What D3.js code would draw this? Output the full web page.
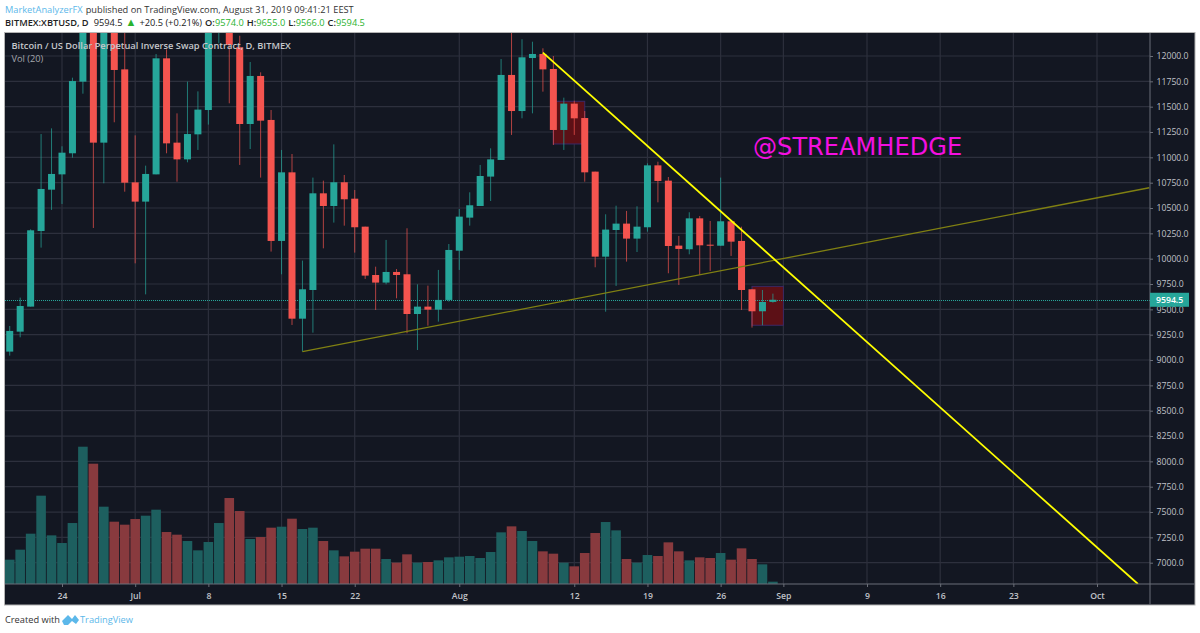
<!DOCTYPE html>
<html>
<head>
<meta charset="utf-8">
<style>
  html, body { margin: 0; padding: 0; background: #fff; }
  svg { display: block; }
  text { font-family: "Open Sans", "Noto Sans", sans-serif; }
</style>
<script src="https://cdnjs.cloudflare.com/ajax/libs/d3/7.8.5/d3.min.js"></script>
</head>
<body>
<div id="chart"></div>
<script>
// daily candles, Jun 19 to Aug 31 2019 (bars above the pane top are guessed, they get clipped)
var firstDay = "2019-06-19", dayAfterLast = "2019-09-01";
var opens = [9083,9280,9527,10273,10681,10832,11040,11747,13000,11145,13000,11868,10753,10563,10832,11977,11145,10980,11227,11467,12500,13000,12086,11329,11803,11369,10175,10852,9408,9691,10645,10520,10754,10592,10316,9839,9764,9869,9846,9454,9527,9497,9593,10079,10405,10520,10810,10974,11813,11457,11980,12020,11872,11270,11530,11388,10859,10020,10283,10346,10198,10310,10921,10770,10129,10093,10398,10138,10128,10369,10175,9698,9481,9574];
var highs = [9336,9616,10290,11230,11286,11109,11786,13500,13800,12500,13200,12400,11217,10918,12020,12066,11434,11747,11651,12600,13200,13300,12200,11941,11839,11467,11073,11033,9981,10800,10770,11128,10826,10678,10316,9921,10185,9898,10300,9747,9734,9889,10145,10490,10655,10925,11089,11970,12300,12165,12141,12076,12000,11589,11559,11457,10859,10438,10523,10471,10517,10941,10957,10806,10224,10458,10421,10372,10800,10382,10316,9698,9691,9655];
var lows = [9043,9224,9527,10109,10481,10540,10997,11628,10303,10744,11346,10661,9954,9648,10832,11040,10760,10951,11073,11323,12125,11533,10925,11082,10800,10070,9846,9346,9083,9270,10102,10356,10326,10060,9800,9494,9747,9609,9264,9099,9339,9379,9576,9889,10326,10520,10569,10974,11221,11385,11434,11648,11122,11073,11221,10760,9915,9477,9731,9971,10066,10267,10556,9856,9741,10043,9839,9879,10128,10027,9494,9320,9343,9566];
var closes = [9287,9533,10280,10688,10836,11046,11753,13000,11145,12400,11862,10750,10563,10836,11977,11138,10980,11230,11471,12300,12800,12109,11329,11803,11362,10175,10852,9408,9698,10645,10520,10754,10586,10310,9833,9764,9869,9839,9454,9527,9497,9593,10086,10415,10527,10816,10980,11813,11457,11987,12020,11868,11270,11530,11385,10852,10020,10287,10346,10198,10316,10921,10767,10125,10096,10398,10132,10128,10369,10168,9691,9481,9573,9594.5];
// volume read as bar height, no scale is shown on the chart
var volumes = [73,103,151,265,146,123,183,412,361,232,187,178,195,205,223,156,148,129,101,126,183,258,219,135,141,169,172,196,165,169,129,101,83,97,106,106,75,64,89,64,66,71,80,82,84,78,96,155,173,159,129,98,91,64,53,93,153,186,161,75,64,87,84,125,98,71,80,78,93,73,107,75,59,7];

var priceTicks = [7000,7250,7500,7750,8000,8250,8500,8750,9000,9250,9500,9750,10000,10250,10500,10750,11000,11250,11500,11750,12000];
var timeTickDates = ["2019-06-24","2019-07-01","2019-07-08","2019-07-15","2019-07-22","2019-08-01","2019-08-12","2019-08-19","2019-08-26","2019-09-01","2019-09-09","2019-09-16","2019-09-23","2019-10-01"];
var timeTickLabels = ["24","Jul","8","15","22","Aug","12","19","26","Sep","9","16","23","Oct"];

// drawings on the chart: [date, price]
var resistanceLine = [["2019-08-09T00:00Z",12033],["2019-10-04T22:00Z",6790]];
var supportLine = [["2019-07-17T00:00Z",9083],["2019-10-06T00:00Z",10700]];
var boxes = [
  {from:"2019-08-10T00:00Z", to:"2019-08-13T00:00Z", top:11553, bottom:11132},
  {from:"2019-08-29T00:00Z", to:"2019-09-01T00:00Z", top:9727, bottom:9343}
];
var lastPrice = 9594.5;

var width = 1200, height = 633;
var pane = {left: 5, right: 1150, top: 33, bottom: 584, outerRight: 1195, outerBottom: 605};
var upColor = "#26a69a", downColor = "#f4544f", gridColor = "#2d303d", axisColor = "#6b6e78", labelColor = "#c0c2c8";
var smallFont = 9.25, axisFont = 8.7;

var days = d3.utcDay.range(new Date(firstDay), new Date(dayAfterLast));
var bars = days.map(function(d, i) {
  return {date: d, open: opens[i], high: highs[i], low: lows[i], close: closes[i], vol: volumes[i]};
});

var svg = d3.select("#chart").append("svg").attr("width", width).attr("height", height);

// scales
var x = d3.scaleUtc().domain([new Date("2019-06-24"), new Date("2019-10-01")]).range([62, 1097]);
var y = d3.scaleLinear().domain([7000, 12000]).range([562.7, 56]);
var yVol = d3.scaleLinear().domain([0, d3.max(volumes)]).range([pane.bottom, pane.bottom - 137.3]);

// pane background and frame
svg.append("rect")
  .attr("x", 4.5).attr("y", 32.5)
  .attr("width", pane.outerRight - 4.5).attr("height", pane.outerBottom - 32.5)
  .attr("fill", "#131722").attr("stroke", "#b4b4b4").attr("stroke-width", 1);

svg.append("clipPath").attr("id", "pane-clip").append("rect")
  .attr("x", pane.left).attr("y", pane.top)
  .attr("width", pane.right - pane.left).attr("height", pane.bottom - pane.top);

// grid
var grid = svg.append("g");
grid.selectAll(".hgrid").data(priceTicks).enter().append("line")
  .attr("x1", pane.left).attr("x2", pane.right)
  .attr("y1", function(d) { return y(d); }).attr("y2", function(d) { return y(d); })
  .attr("stroke", gridColor).attr("stroke-width", 1.2);
grid.selectAll(".vgrid").data(timeTickDates).enter().append("line")
  .attr("y1", pane.top).attr("y2", pane.bottom)
  .attr("x1", function(d) { return x(new Date(d)); }).attr("x2", function(d) { return x(new Date(d)); })
  .attr("stroke", gridColor).attr("stroke-width", 1.2);

var plot = svg.append("g").attr("clip-path", "url(#pane-clip)");

// volume
plot.selectAll(".vol").data(bars).enter().append("rect")
  .attr("x", function(d) { return x(d.date) - 4.8; })
  .attr("width", 9.6)
  .attr("y", function(d) { return yVol(d.vol); })
  .attr("height", function(d) { return pane.bottom - yVol(d.vol); })
  .attr("fill", function(d) { return d.close >= d.open ? "#1d5f5f" : "#883a3e"; });

// boxes sit under the candles
plot.selectAll(".box").data(boxes).enter().append("rect")
  .attr("x", function(d) { return x(new Date(d.from)); })
  .attr("width", function(d) { return x(new Date(d.to)) - x(new Date(d.from)); })
  .attr("y", function(d) { return y(d.top); })
  .attr("height", function(d) { return y(d.bottom) - y(d.top); })
  .attr("fill", "#5c1016").attr("stroke", "#3a2a66").attr("stroke-width", 1);

// last price dotted line, snapped to a pixel row so the dots stay teal
var lastY = Math.round(y(lastPrice)) + 0.5;
plot.append("line")
  .attr("x1", pane.left).attr("x2", pane.right)
  .attr("y1", lastY).attr("y2", lastY)
  .attr("stroke", "#26a69a").attr("stroke-width", 1).attr("stroke-dasharray", "1 1");

// candles
plot.selectAll(".wick").data(bars).enter().append("line")
  .attr("x1", function(d) { return x(d.date); }).attr("x2", function(d) { return x(d.date); })
  .attr("y1", function(d) { return y(d.high); }).attr("y2", function(d) { return y(d.low); })
  .attr("stroke", function(d) { return d.close >= d.open ? upColor : downColor; })
  .attr("stroke-opacity", 0.7).attr("stroke-width", 1);
plot.selectAll(".body").data(bars).enter().append("rect")
  .attr("x", function(d) { return x(d.date) - 3.5; })
  .attr("width", 7)
  .attr("y", function(d) { return y(Math.max(d.open, d.close)); })
  .attr("height", function(d) { return Math.max(1, Math.abs(y(d.open) - y(d.close))); })
  .attr("fill", function(d) { return d.close >= d.open ? upColor : downColor; });

// trend lines
var trend = d3.line()
  .x(function(d) { return x(new Date(d[0])); })
  .y(function(d) { return y(d[1]); });
plot.append("path").attr("d", trend(supportLine))
  .attr("fill", "none").attr("stroke", "#808012").attr("stroke-width", 1.3);
plot.append("path").attr("d", trend(resistanceLine))
  .attr("fill", "none").attr("stroke", "#ffff00").attr("stroke-width", 1.8);

// price axis
var yAxis = svg.append("g")
  .attr("transform", "translate(" + pane.right + ",0)")
  .call(d3.axisRight(y).tickValues(priceTicks).tickSize(3).tickPadding(3.5)
    .tickFormat(function(d) { return d3.format(".1f")(d); }));
yAxis.select(".domain").remove();
yAxis.selectAll("line").attr("stroke", axisColor);
yAxis.selectAll("text").attr("fill", labelColor)
  .style("font-family", '"Open Sans", sans-serif').style("font-size", axisFont + "px");
svg.append("line")
  .attr("x1", pane.right).attr("x2", pane.right).attr("y1", pane.top).attr("y2", pane.outerBottom)
  .attr("stroke", axisColor);

// time axis
var xAxis = svg.append("g")
  .attr("transform", "translate(0," + pane.bottom + ")")
  .call(d3.axisBottom(x).tickValues(timeTickDates.map(function(d) { return new Date(d); }))
    .tickSize(3).tickPadding(6)
    .tickFormat(function(d, i) { return timeTickLabels[i]; }));
xAxis.select(".domain").remove();
xAxis.selectAll("line").attr("stroke", axisColor);
xAxis.selectAll("text").attr("fill", labelColor)
  .style("font-family", '"Open Sans", sans-serif').style("font-size", axisFont + "px").style("font-weight", 600);
svg.append("line")
  .attr("x1", pane.left).attr("x2", pane.outerRight).attr("y1", pane.bottom).attr("y2", pane.bottom)
  .attr("stroke", axisColor);

// last price tag
svg.append("rect")
  .attr("x", pane.right).attr("y", y(lastPrice) - 7)
  .attr("width", 39).attr("height", 14)
  .attr("fill", upColor);
svg.append("text")
  .attr("x", pane.right + 6).attr("y", y(lastPrice) + 3.2)
  .attr("fill", "#ffffff").attr("font-size", axisFont).attr("font-weight", 600)
  .text(d3.format(".1f")(lastPrice));

// titles inside the pane
svg.append("text").attr("x", 11.5).attr("y", 49)
  .attr("fill", "#c6c8cc").attr("font-size", smallFont).attr("font-weight", 600)
  .text("Bitcoin / US Dollar Perpetual Inverse Swap Contract, D, BITMEX");
svg.append("text").attr("x", 11.5).attr("y", 62)
  .attr("fill", "#a4a6ac").attr("font-size", smallFont)
  .text("Vol (20)");

svg.append("text").attr("x", 753).attr("y", 155)
  .attr("fill", "#f40fe0").attr("font-size", 24.1)
  .style("font-family", '"DejaVu Sans", sans-serif')
  .text("@STREAMHEDGE");

// header lines
var header1 = svg.append("text").attr("x", 5).attr("y", 13).attr("font-size", smallFont).attr("fill", "#333333");
header1.append("tspan").attr("fill", "#5cb8ea").text("MarketAnalyzerFX");
header1.append("tspan").attr("dx", 3).text("published on TradingView.com, August 31, 2019 09:41:21 EEST");

var green = "#2ab32f";
var header2 = svg.append("text").attr("x", 5).attr("y", 26).attr("font-size", smallFont).attr("fill", "#222222");
header2.append("tspan").attr("font-weight", 600).text("BITMEX:XBTUSD, D");
header2.append("tspan").attr("dx", 5).text("9594.5");
header2.append("tspan").attr("dx", 3).attr("fill", green).attr("font-size", 11).text("▲");
header2.append("tspan").attr("dx", 3).text("+20.5 (+0.21%)");
[["O:", "9574.0"], ["H:", "9655.0"], ["L:", "9566.0"], ["C:", "9594.5"]].forEach(function(p) {
  header2.append("tspan").attr("dx", 3).attr("font-weight", 600).text(p[0]);
  header2.append("tspan").attr("fill", green).text(p[1]);
});

// footer
svg.append("text").attr("x", 5).attr("y", 623).attr("font-size", smallFont).attr("fill", "#333333").text("Created with");
svg.append("path")
  .attr("d", "M62 621 L68 615 L72 619 L75 615 L79 620 L76 624 L72 621 L68 625 L64 625 Z")
  .attr("fill", "#5cb8ea");
svg.append("text").attr("x", 80).attr("y", 623).attr("font-size", smallFont).attr("fill", "#5cb8ea").text("TradingView");
</script>
</body>
</html>
